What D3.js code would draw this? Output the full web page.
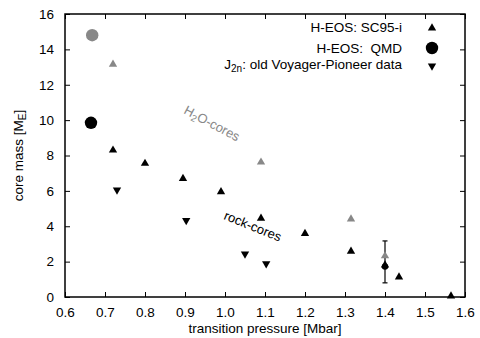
<!DOCTYPE html>
<html><head><meta charset="utf-8">
<script src="https://cdn.jsdelivr.net/npm/d3@7"></script>
<style>body{margin:0;background:#fff}text{font-family:"Liberation Sans",Arial,sans-serif}</style>
</head><body><svg id="c" width="480" height="338"></svg>
<script>
const xTicks = [0.6,0.7,0.8,0.9,1.0,1.1,1.2,1.3,1.4,1.5,1.6];
const xTickLabels = ["0.6","0.7","0.8","0.9","1.0","1.1","1.2","1.3","1.4","1.5","1.6"];
const yTicks = [0,2,4,6,8,10,12,14,16];
// H-EOS SC95-i, rock cores (black up-triangles)
const scRockP = [0.72,0.80,0.895,0.99,1.09,1.20,1.315,1.40,1.435,1.565];
const scRockM = [8.3,7.55,6.7,5.95,4.45,3.58,2.58,1.8,1.13,0.05];
// H-EOS SC95-i, H2O cores (grey up-triangles)
const scH2OP = [0.72,1.09,1.315,1.40];
const scH2OM = [13.15,7.62,4.4,2.32];
// H-EOS QMD (circles)
const qmdP = [0.668,0.665];
const qmdM = [14.8,9.85];
const qmdGroup = ["h2o","rock"];
// J2n old Voyager-Pioneer data (down-triangles)
const vpP = [0.73,0.903,1.05,1.103];
const vpM = [6.05,4.33,2.43,1.88];
// error bar
const errP = [1.40]; const errLo = [0.8]; const errHi = [3.17]; const errMid = [1.72];

const svg = d3.select("#c");
const m = {l:65,r:15,t:14,b:41};
const W = 480, H = 338;
const x = d3.scaleLinear().domain([0.6,1.6]).range([m.l, W-m.r]);
const y = d3.scaleLinear().domain([0,16]).range([H-m.b, m.t]);
const font = 13.5;

// axes
const xa = svg.append("g").attr("transform",`translate(0,${H-m.b})`)
  .call(d3.axisBottom(x).tickValues(xTicks).tickFormat((d,i)=>xTickLabels[i]).tickSizeInner(-5).tickSizeOuter(0).tickPadding(10));
const xt = svg.append("g").attr("transform",`translate(0,${m.t})`)
  .call(d3.axisTop(x).tickValues(xTicks).tickFormat("").tickSizeInner(-5).tickSizeOuter(0));
const ya = svg.append("g").attr("transform",`translate(${m.l},0)`)
  .call(d3.axisLeft(y).tickValues(yTicks).tickSizeInner(-5).tickSizeOuter(0).tickPadding(11));
const yr = svg.append("g").attr("transform",`translate(${W-m.r},0)`)
  .call(d3.axisRight(y).tickValues(yTicks).tickFormat("").tickSizeInner(-5).tickSizeOuter(0));
[xa,xt,ya,yr].forEach(g=>{g.select(".domain").remove();g.selectAll("line").attr("stroke","#000").attr("stroke-width",1);
  g.selectAll("text").attr("font-size",font).attr("fill","#000").style("font-family","Liberation Sans, Arial, sans-serif");});
svg.append("rect").attr("x",m.l).attr("y",m.t).attr("width",W-m.l-m.r).attr("height",H-m.t-m.b)
  .attr("fill","none").attr("stroke","#000").attr("stroke-width",1.5);

// axis labels
svg.append("text").attr("x",(m.l+W-m.r)/2).attr("y",333).attr("text-anchor","middle").attr("font-size",13.5).text("transition pressure [Mbar]");
const yl = svg.append("text").attr("transform",`translate(23,${(m.t+H-m.b)/2}) rotate(-90)`).attr("text-anchor","middle").attr("font-size",13.5);
yl.append("tspan").text("core mass [M");
yl.append("tspan").attr("font-size",10).attr("dy",3).text("E");
yl.append("tspan").attr("dy",-3).text("]");

const tri = d3.symbol().type(d3.symbolTriangle).size(30);
const grey = "#888888";

// error bar
const eb = svg.append("g");
errP.forEach((p,i)=>{
  eb.append("line").attr("x1",x(p)).attr("x2",x(p)).attr("y1",y(errLo[i])).attr("y2",y(errHi[i])).attr("stroke","#000").attr("stroke-width",1.2);
  [errLo[i],errHi[i]].forEach(v=>eb.append("line").attr("x1",x(p)-2.5).attr("x2",x(p)+2.5).attr("y1",y(v)).attr("y2",y(v)).attr("stroke","#000").attr("stroke-width",1.2));
  eb.append("circle").attr("cx",x(p)).attr("cy",y(errMid[i])).attr("r",3.2).attr("fill","#000");
});

// grey triangles
svg.append("g").selectAll("path").data(scH2OP).join("path")
  .attr("d",tri).attr("transform",(d,i)=>`translate(${x(d)},${y(scH2OM[i])})`).attr("fill",grey);
// black triangles
svg.append("g").selectAll("path").data(scRockP).join("path")
  .attr("d",tri).attr("transform",(d,i)=>`translate(${x(d)},${y(scRockM[i])})`).attr("fill","#000");
// down triangles
svg.append("g").selectAll("path").data(vpP).join("path")
  .attr("d",tri).attr("transform",(d,i)=>`translate(${x(d)},${y(vpM[i])}) rotate(180)`).attr("fill","#000");
// circles
svg.append("g").selectAll("circle").data(qmdP).join("circle")
  .attr("cx",d=>x(d)).attr("cy",(d,i)=>y(qmdM[i])).attr("r",6.2).attr("fill",(d,i)=>qmdGroup[i]==="h2o"?grey:"#000");

// curve labels
const h2o = svg.append("text").attr("transform","translate(183,113) rotate(28)").attr("font-size",13).attr("fill",grey);
h2o.append("tspan").text("H");
h2o.append("tspan").attr("font-size",9.5).attr("dy",3).text("2");
h2o.append("tspan").attr("dy",-3).text("O-cores");
svg.append("text").attr("transform","translate(223,219) rotate(22)").attr("font-size",13).attr("fill","#000").text("rock-cores");

// legend
const lx = 402, sx = 432;
const leg = svg.append("g").attr("font-size",13.5).attr("text-anchor","end");
leg.append("text").attr("x",lx).attr("y",32).text("H-EOS: SC95-i");
leg.append("path").attr("d",tri).attr("transform",`translate(${sx},${28})`).attr("fill","#000");
leg.append("text").attr("x",lx).attr("y",52.5).attr("xml:space","preserve").text("H-EOS:  QMD");
leg.append("circle").attr("cx",sx).attr("cy",48).attr("r",6.2).attr("fill","#000");
const t3 = leg.append("text").attr("x",lx).attr("y",69);
t3.append("tspan").text("J");
t3.append("tspan").attr("font-size",10).attr("dy",3).text("2n");
t3.append("tspan").attr("dy",-3).text(": old Voyager-Pioneer data");
leg.append("path").attr("d",tri).attr("transform",`translate(${sx},${66}) rotate(180)`).attr("fill","#000");
</script></body></html>
